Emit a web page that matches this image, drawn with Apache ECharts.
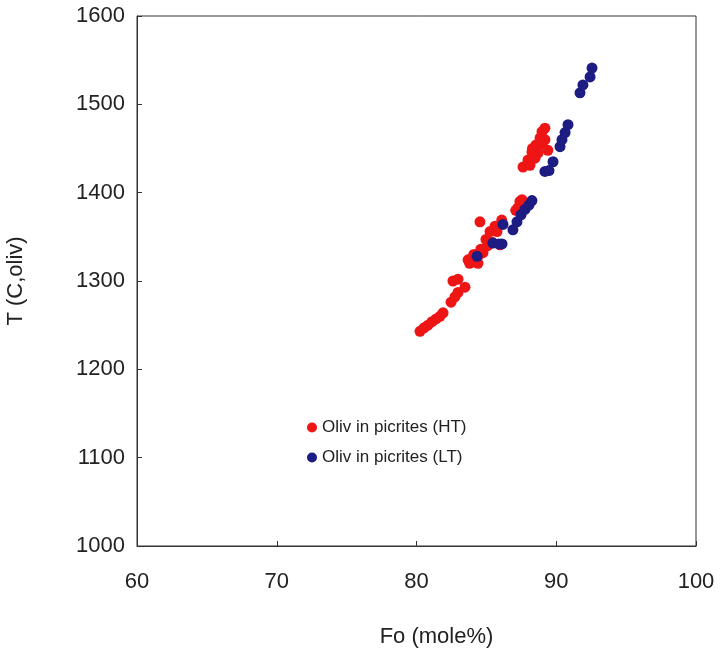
<!DOCTYPE html>
<html>
<head>
<meta charset="utf-8">
<script src="https://cdn.jsdelivr.net/npm/echarts@6/dist/echarts.min.js"></script>
<style>html,body{margin:0;padding:0;background:#fff;}#c{width:725px;height:658px;}</style>
</head>
<body>
<div id="c"></div>
<script>
var xTicks = [60, 70, 80, 90, 100];
var yTicks = [1000, 1100, 1200, 1300, 1400, 1500, 1600];
var seriesNames = ['Oliv in picrites (HT)', 'Oliv in picrites (LT)'];
var htFo = [80.25,80.54,80.82,81.11,81.40,81.68,81.90,82.47,82.75,82.97,83.47,82.61,82.97,83.69,83.97,84.40,84.76,84.40,84.54,84.97,85.26,85.62,85.76,85.97,86.10,87.40,87.26,87.55,87.62,87.98,88.26,88.55,88.84,89.19,88.98,88.12,88.48,89.19,89.40,83.80,84.10,84.60,85.10,85.40,84.20,87.10,88.70,89.00,88.30];
var htT  = [1243,1247,1250,1254,1257,1260,1264,1276,1282,1287,1293,1300,1302,1324,1326,1328,1332,1320,1367,1347,1356,1362,1356,1341,1369,1390,1383,1392,1429,1437,1446,1454,1462,1473,1469,1431,1439,1460,1448,1320,1330,1336,1340,1344,1322,1380,1445,1455,1450];
var ltFo = [84.33,85.47,86.12,86.19,86.90,87.19,87.48,87.76,88.05,88.26,89.19,89.48,89.77,90.27,90.41,90.63,90.84,91.70,91.91,92.42,92.56,85.90];
var ltT  = [1328,1343,1342,1364,1358,1367,1375,1381,1386,1391,1424,1425,1435,1452,1460,1468,1477,1513,1522,1531,1541,1342];

function pairs(xs, ys){ return xs.map(function(v,i){ return [v, ys[i]]; }); }

var chart = echarts.init(document.getElementById('c'));
var font = 'Liberation Sans, Arial, sans-serif';
chart.setOption({
  animation: false,
  backgroundColor: '#ffffff',
  grid: { left: 137, right: 29, top: 16, bottom: 112, containLabel: false, outerBoundsMode: 'none', show: true, borderColor: '#333', borderWidth: 1, backgroundColor: 'transparent' },
  legend: {
    orient: 'vertical', left: 302, top: 414, itemGap: 13,
    icon: 'circle', itemWidth: 10, itemHeight: 10,
    textStyle: { fontFamily: font, fontSize: 17, color: '#222' },
    data: seriesNames
  },
  xAxis: {
    type: 'value', min: xTicks[0], max: xTicks[xTicks.length-1], interval: 10,
    name: 'Fo (mole%)', nameLocation: 'middle', nameGap: 80,
    nameTextStyle: { fontFamily: font, fontSize: 22, color: '#222', padding: [0,0,0,40] },
    axisLine: { show: true, lineStyle: { color: '#333' } },
    axisTick: { show: true, inside: true, length: 5, lineStyle: { color: '#333' } },
    axisLabel: { margin: 25, fontFamily: font, fontSize: 22, color: '#222', formatter: function(v){ return String(v); } },
    splitLine: { show: false }
  },
  yAxis: {
    type: 'value', min: yTicks[0], max: yTicks[yTicks.length-1], interval: 100,
    name: 'T (C,oliv)', nameLocation: 'middle', nameGap: 110, nameRotate: 90,
    nameTextStyle: { fontFamily: font, fontSize: 22, color: '#222' },
    axisLine: { show: true, lineStyle: { color: '#333' } },
    axisTick: { show: true, inside: true, length: 5, lineStyle: { color: '#333' } },
    axisLabel: { margin: 12, fontFamily: font, fontSize: 22, color: '#222', formatter: function(v){ return String(v); } },
    splitLine: { show: false }
  },
  series: [
    { name: seriesNames[0], type: 'scatter', symbolSize: 11, itemStyle: { color: '#ee1515', opacity: 1 }, data: pairs(htFo, htT), z: 2 },
    { name: seriesNames[1], type: 'scatter', symbolSize: 11, itemStyle: { color: '#1c1c82', opacity: 1 }, data: pairs(ltFo, ltT), z: 3 }
  ]
});
</script>
</body>
</html>
